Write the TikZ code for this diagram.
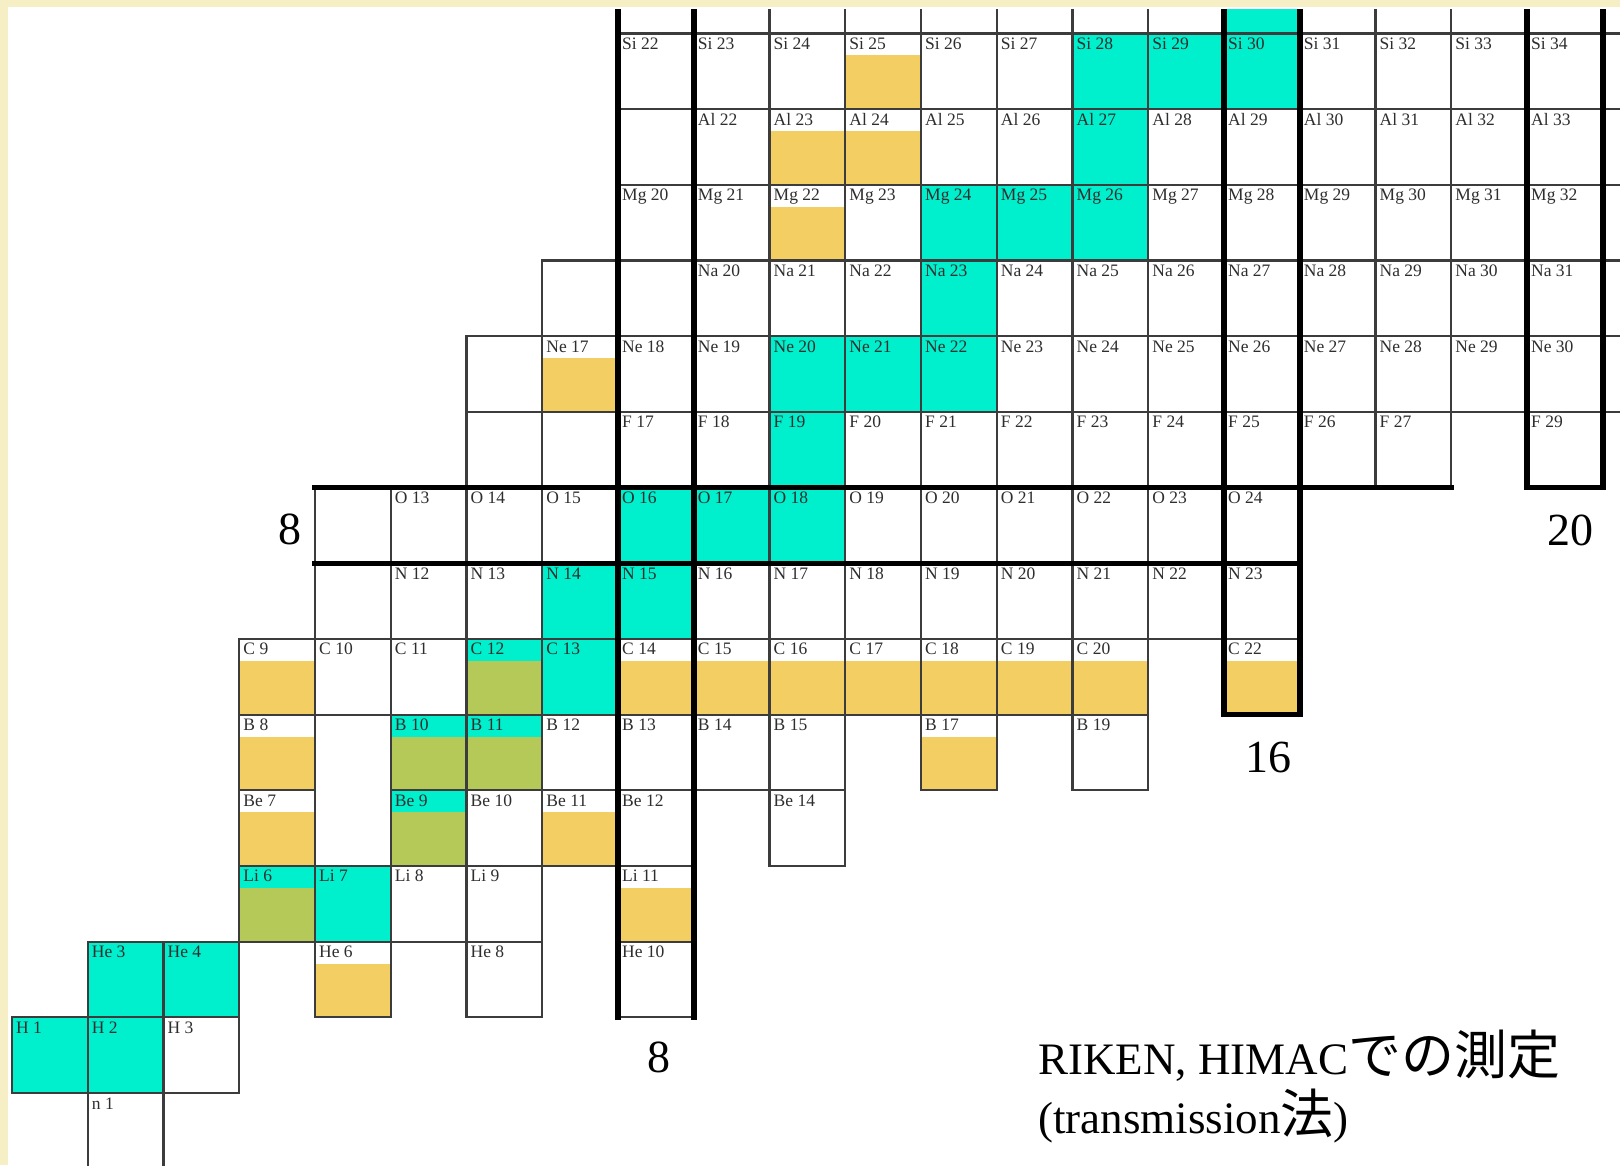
\documentclass[tikz,border=0pt]{standalone}
\usepackage{fontspec}
\setmainfont{Liberation Serif}
\newfontfamily\cjk{Noto Sans CJK JP}
\definecolor{stab}{HTML}{00EFCC}
\definecolor{meas}{HTML}{F2CE63}
\definecolor{olv}{HTML}{B4C957}
\definecolor{slidebg}{HTML}{F6EEC4}
\definecolor{gridc}{HTML}{3C3C3C}
\definecolor{labc}{HTML}{2E2E2E}
\tikzset{
  cellline/.style={draw=gridc, line width=2.2pt},
  magic/.style={draw=black, line width=5.5pt, line cap=rect, line join=miter},
  lab/.style={font=\fontsize{17.5}{17.5}\selectfont, text=labc, inner sep=0pt, anchor=base west},
  bignum/.style={font=\fontsize{46}{46}\selectfont, inner sep=0pt},
  note/.style={font=\fontsize{45}{45}\selectfont, inner sep=0pt, anchor=base west},
  cjkbig/.style={}
}
\newcommand\bigcjk[1]{{\fontsize{53}{53}\selectfont\cjk #1}}
\def\allcells{1/0/n 1, 0/1/H 1, 1/1/H 2, 2/1/H 3,
1/2/He 3, 2/2/He 4, 4/2/He 6, 6/2/He 8, 8/2/He 10,
3/3/Li 6, 4/3/Li 7, 5/3/Li 8, 6/3/Li 9, 8/3/Li 11,
3/4/Be 7, 5/4/Be 9, 6/4/Be 10, 7/4/Be 11, 8/4/Be 12, 10/4/Be 14,
3/5/B 8, 5/5/B 10, 6/5/B 11, 7/5/B 12, 8/5/B 13, 9/5/B 14, 10/5/B 15, 12/5/B 17, 14/5/B 19,
3/6/C 9, 4/6/C 10, 5/6/C 11, 6/6/C 12, 7/6/C 13, 8/6/C 14, 9/6/C 15, 10/6/C 16, 11/6/C 17, 12/6/C 18, 13/6/C 19, 14/6/C 20, 16/6/C 22,
4/7/{}, 5/7/N 12, 6/7/N 13, 7/7/N 14, 8/7/N 15, 9/7/N 16, 10/7/N 17, 11/7/N 18, 12/7/N 19, 13/7/N 20, 14/7/N 21, 15/7/N 22, 16/7/N 23,
4/8/{}, 5/8/O 13, 6/8/O 14, 7/8/O 15, 8/8/O 16, 9/8/O 17, 10/8/O 18, 11/8/O 19, 12/8/O 20, 13/8/O 21, 14/8/O 22, 15/8/O 23, 16/8/O 24,
6/9/{}, 7/9/{}, 8/9/F 17, 9/9/F 18, 10/9/F 19, 11/9/F 20, 12/9/F 21, 13/9/F 22, 14/9/F 23, 15/9/F 24, 16/9/F 25, 17/9/F 26, 18/9/F 27, 20/9/F 29,
6/10/{}, 7/10/Ne 17, 8/10/Ne 18, 9/10/Ne 19, 10/10/Ne 20, 11/10/Ne 21, 12/10/Ne 22, 13/10/Ne 23, 14/10/Ne 24, 15/10/Ne 25, 16/10/Ne 26, 17/10/Ne 27, 18/10/Ne 28, 19/10/Ne 29, 20/10/Ne 30, 21/10/{},
7/11/{}, 8/11/{}, 9/11/Na 20, 10/11/Na 21, 11/11/Na 22, 12/11/Na 23, 13/11/Na 24, 14/11/Na 25, 15/11/Na 26, 16/11/Na 27, 17/11/Na 28, 18/11/Na 29, 19/11/Na 30, 20/11/Na 31, 21/11/{},
8/12/Mg 20, 9/12/Mg 21, 10/12/Mg 22, 11/12/Mg 23, 12/12/Mg 24, 13/12/Mg 25, 14/12/Mg 26, 15/12/Mg 27, 16/12/Mg 28, 17/12/Mg 29, 18/12/Mg 30, 19/12/Mg 31, 20/12/Mg 32, 21/12/{},
8/13/{}, 9/13/Al 22, 10/13/Al 23, 11/13/Al 24, 12/13/Al 25, 13/13/Al 26, 14/13/Al 27, 15/13/Al 28, 16/13/Al 29, 17/13/Al 30, 18/13/Al 31, 19/13/Al 32, 20/13/Al 33, 21/13/{},
8/14/Si 22, 9/14/Si 23, 10/14/Si 24, 11/14/Si 25, 12/14/Si 26, 13/14/Si 27, 14/14/Si 28, 15/14/Si 29, 16/14/Si 30, 17/14/Si 31, 18/14/Si 32, 19/14/Si 33, 20/14/Si 34, 21/14/{},
8/15/{}, 9/15/{}, 10/15/{}, 11/15/{}, 12/15/{}, 13/15/{}, 14/15/{}, 15/15/{}, 16/15/{}, 17/15/{}, 18/15/{}, 19/15/{}, 20/15/{}, 21/15/{}}
\def\stablecells{0/1, 1/1, 1/2, 2/2, 3/3, 4/3, 5/4, 5/5, 6/5, 6/6, 7/6, 7/7, 8/7, 8/8, 9/8, 10/8, 10/9, 10/10, 11/10, 12/10, 12/11, 12/12, 13/12, 14/12, 14/13, 14/14, 15/14, 16/14, 16/15}
\def\meascells{4/2, 8/3, 3/4, 7/4, 3/5, 12/5, 3/6, 8/6, 9/6, 10/6, 11/6, 12/6, 13/6, 14/6, 16/6, 7/10, 10/12, 10/13, 11/13, 11/14}
\def\olvcells{3/3, 5/4, 5/5, 6/5, 6/6}
\begin{document}
\begin{tikzpicture}[x=1pt,y=1pt]
\useasboundingbox (0,0) rectangle (1620,1165);
\fill[slidebg] (0,0) rectangle (1620,1165);
\fill[white] (8,0) rectangle (1620,1158);
\begin{scope}
\clip (8,0) rectangle (1620,1155);
\begin{scope}[shift={(12pt,-3.7pt)}, x=75.75pt, y=75.68pt]
  % stable (cyan) cells
  \foreach \n/\z in \stablecells { \fill[stab] (\n,\z) rectangle ++(1,1); }
  % measured lower parts
  \foreach \n/\z in \meascells { \fill[meas] (\n,\z) rectangle ++(1,0.71); }
  \foreach \n/\z in \olvcells { \fill[olv] (\n,\z) rectangle ++(1,0.71); }
  % cell borders
  \foreach \n/\z/\l in \allcells { \draw[cellline] (\n,\z) rectangle ++(1,1); }
  % magic number lines
  \draw[magic] (8,2) -- (8,16);
  \draw[magic] (9,2) -- (9,16);
  \draw[magic] (16,16) -- (16,6) -- (17,6) -- (17,16);
  \draw[magic] (20,16) -- (20,9) -- (21,9) -- (21,16);
  \draw[magic] (4,9) -- (19,9);
  \draw[magic] (4,8) -- (17,8);
  % labels
  \foreach \n/\z/\l in \allcells {
    \node[lab] (L\n-\z) at ([xshift=4pt,yshift=-16pt]\n,\z+1) {\l};
  }
\end{scope}
\end{scope}
\node[bignum] (m8z) at (290,636) {8};
\node[bignum] (m8n) at (659,108) {8};
\node[bignum] (m16) at (1268,407) {16};
\node[bignum] (m20) at (1570,635) {20};
\node[note] (t1) at (1038,90) {RIKEN, HIMAC\bigcjk{での測定}};
\node[note] (t2) at (1038,32) {(transmission\bigcjk{法})};
\end{tikzpicture}
\end{document}
